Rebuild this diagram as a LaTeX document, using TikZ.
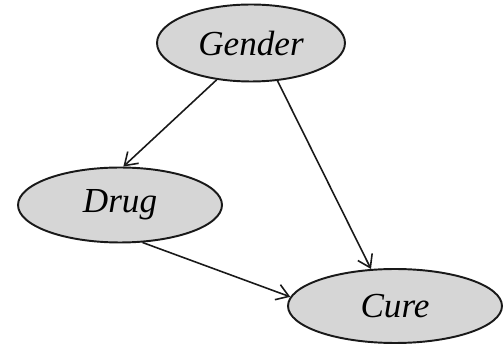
\documentclass[tikz,border=0pt]{standalone}
\usepackage{fontspec}
\setmainfont{Liberation Serif}
\usetikzlibrary{shapes.geometric,arrows.meta}
\begin{document}
\begin{tikzpicture}[x=0.02cm,y=-0.02cm,
  var/.style={ellipse,draw=black!90,line width=1.1pt,fill=black!16,
    inner sep=0pt,font=\fontsize{20}{24}\selectfont\itshape},
  edge/.style={draw=black!90,line width=0.9pt,
    -{Straight Barb[length=2.4mm,width=3.2mm,line width=0.9pt]}}]
  \useasboundingbox (0,0) rectangle (504,347);
  % variables
  \node[var,minimum width=3.76cm,minimum height=1.54cm] (gender) at (251,43) {Gender};
  \node[var,minimum width=4.08cm,minimum height=1.50cm] (drug) at (120,205) {Drug};
  \node[var,minimum width=4.28cm,minimum height=1.48cm] (cure) at (395,306) {Cure};
  % causal links
  \draw[edge] (gender.227) -- (drug.85);
  \draw[edge] (gender.305) -- (cure.123);
  \draw[edge] (drug.301) -- (cure.175);
\end{tikzpicture}
\end{document}
